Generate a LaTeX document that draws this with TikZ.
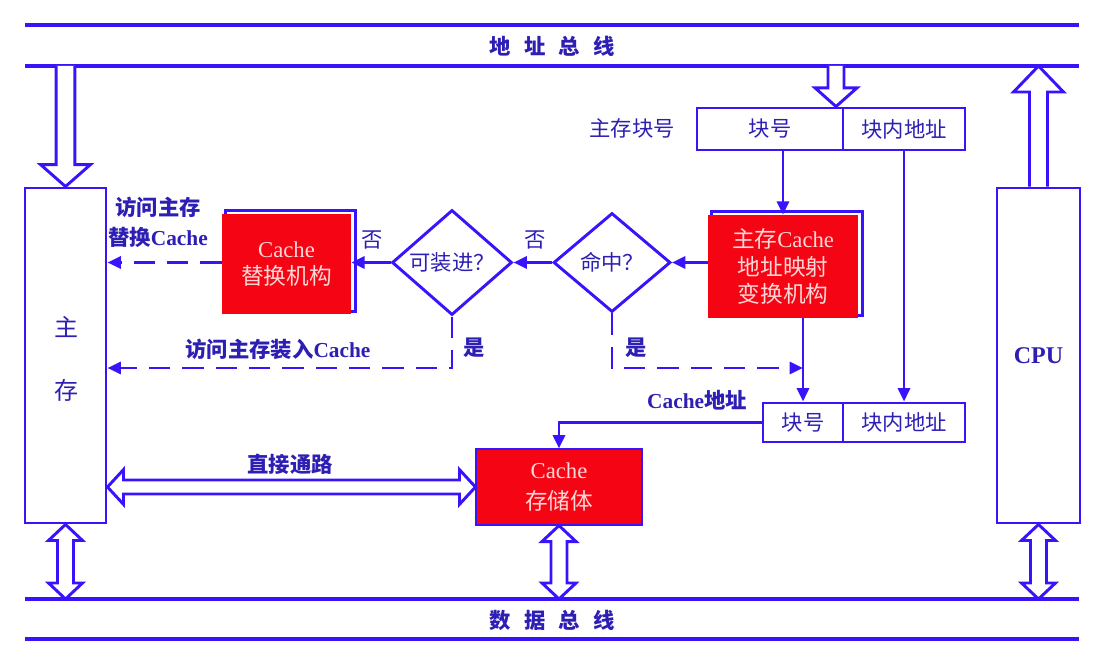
\documentclass[tikz,border=0pt]{standalone}
\usepackage{fontspec}
\setmainfont{Liberation Serif}
\newfontfamily\cjk{Noto Sans CJK SC}
\usetikzlibrary{shapes.geometric,arrows.meta,calc,backgrounds}
\definecolor{bl}{RGB}{55,20,250}
\definecolor{tx}{RGB}{45,30,180}
\definecolor{rd}{RGB}{245,5,20}
\definecolor{pk}{RGB}{255,215,215}
% vertical double hollow arrow: #1 top point, #2 bottom point
\newcommand\vdarr[2]{%
  \draw[hollow] let \p1=#1, \p2=#2 in
    (\x1,\y1) -- ({\x1+12.75pt},{\y1-12pt}) -- ({\x1+6pt},{\y1-12pt}) --
    ({\x1+6pt},{\y2+12pt}) -- ({\x1+12.75pt},{\y2+12pt}) -- (\x1,\y2) --
    ({\x1-12.75pt},{\y2+12pt}) -- ({\x1-6pt},{\y2+12pt}) --
    ({\x1-6pt},{\y1-12pt}) -- ({\x1-12.75pt},{\y1-12pt}) -- cycle;}
% single hollow arrow from #1 (open end) to #2 (tip); #3 shaft half, #4 head half, #5 head length (signed)
\newcommand\vsarr[5]{%
  \draw[hollow] let \p1=#1, \p2=#2 in
    ({\x1-#3},\y1) -- ({\x1-#3},{\y2+#5}) -- ({\x1-#4},{\y2+#5}) -- (\x1,\y2) --
    ({\x1+#4},{\y2+#5}) -- ({\x1+#3},{\y2+#5}) -- ({\x1+#3},\y1);}
% horizontal double hollow arrow: #1 left point, #2 right point
\newcommand\hdarr[2]{%
  \draw[hollow] let \p1=#1, \p2=#2 in
    (\x1,\y1) -- ({\x1+12pt},{\y1+13pt}) -- ({\x1+12pt},{\y1+5.25pt}) --
    ({\x2-12pt},{\y1+5.25pt}) -- ({\x2-12pt},{\y1+13pt}) -- (\x2,\y1) --
    ({\x2-12pt},{\y1-13pt}) -- ({\x2-12pt},{\y1-5.25pt}) --
    ({\x1+12pt},{\y1-5.25pt}) -- ({\x1+12pt},{\y1-13pt}) -- cycle;}
\begin{document}
\begin{tikzpicture}[x=0.75pt,y=-0.75pt,
  font=\fontsize{16}{20}\selectfont,
  box/.style={draw=bl, line width=2.2pt, rectangle, inner sep=0pt, text=tx},
  redbox/.style={fill=rd, draw=none, inner sep=0pt, text=pk, align=center,
                 font=\fontsize{17}{20.5}\selectfont},
  dia/.style={diamond, draw=bl, line width=2.2pt, inner sep=0pt, text=tx},
  conn/.style={draw=bl, line width=2.2pt, -{Triangle[length=10pt,width=9pt]}},
  dconn/.style={conn, dash pattern=on 16pt off 9pt},
  bus/.style={draw=bl, line width=3pt},
  hollow/.style={draw=bl, line width=2.2pt, fill=white, line join=miter},
  lbl/.style={text=tx, inner sep=0pt},
  blbl/.style={lbl, font=\fontsize{16}{20}\selectfont\bfseries},
]
\useasboundingbox (0,0) rectangle (1098,656);

% buses
\coordinate (a1l) at (25,25);  \coordinate (a1r) at (1079,25);
\coordinate (a2l) at (25,66);  \coordinate (a2r) at (1079,66);
\coordinate (d1l) at (25,599); \coordinate (d1r) at (1079,599);
\coordinate (d2l) at (25,639); \coordinate (d2r) at (1079,639);
\draw[bus] (a1l) -- (a1r);
\draw[bus] (a2l) -- (a2r);
\draw[bus] (d1l) -- (d1r);
\draw[bus] (d2l) -- (d2r);
\node[blbl] (abus) at (552,46) {\cjk\bfseries 地\hspace{10pt}址\hspace{10pt}总\hspace{10pt}线};
\node[blbl] (dbus) at (552,620) {\cjk\bfseries 数\hspace{10pt}据\hspace{10pt}总\hspace{10pt}线};

% main boxes
\node[box, minimum width=60.75pt, minimum height=251.25pt] (mem) at (65.5,355.5) {};
\node[lbl, font=\fontsize{18}{20}\selectfont] (memA) at (66,327) {\cjk 主};
\node[lbl, font=\fontsize{18}{20}\selectfont] (memB) at (66,390) {\cjk 存};
\node[box, minimum width=62.25pt, minimum height=251.25pt,
      font=\fontsize{18}{20}\selectfont\bfseries] (cpu) at (1038.5,355.5) {CPU};

% address registers
\node[box, minimum width=109.5pt, minimum height=31.5pt] (blk1) at (770,129) {\cjk 块号};
\node[box, minimum width=91.5pt, minimum height=31.5pt] (off1) at (904,129) {\cjk 块内地址};
\node[lbl] (mlab) at (632,128) {\cjk 主存块号};
\node[box, minimum width=60pt, minimum height=29.25pt] (blk2) at (803,422.5) {\cjk 块号};
\node[box, minimum width=91.5pt, minimum height=29.25pt] (off2) at (904,422.5) {\cjk 块内地址};
\node[blbl] (clab) at (697,400) {Cache{\cjk\bfseries 地址}};

% red units
\node[redbox, minimum width=112.5pt, minimum height=77.25pt] (map) at (783,266.5)
  {{\cjk 主存}Cache\\{\cjk 地址映射}\\{\cjk 变换机构}};
\node[redbox, minimum width=96.75pt, minimum height=75pt] (repl) at (286.5,264)
  {Cache\\{\cjk 替换机构}};
\node[redbox, draw=bl, line width=0.8pt, minimum width=124.5pt, minimum height=57pt,
      font=\fontsize{17}{23}\selectfont] (store) at (559,487)
  {Cache\\{\cjk 存储体}};
\begin{scope}[on background layer]
  \draw[bl, line width=2pt] ($(map.south west)+(4,-3)$) rectangle ($(map.north east)+(4,-3)$);
  \draw[bl, line width=2pt] ($(repl.south west)+(4,-3)$) rectangle ($(repl.north east)+(4,-3)$);
\end{scope}

% decisions
\node[dia, minimum width=87.75pt, minimum height=74.25pt] (hit) at (612,262.5) {\cjk 命中？};
\node[dia, minimum width=90pt, minimum height=74.25pt] (fit) at (452,262.5) {\cjk 可装进？};

% connectors
\coordinate (ylow) at (0,368);
\draw[conn] (map.north |- blk1.south) -- (map.north);
\draw[conn] (off1.south) -- (off2.north);
\draw[conn] (map.west |- hit.east) -- (hit.east);
\draw[conn] (hit.west) -- (fit.east);
\draw[conn] (fit.west) -- (fit.west -| repl.east);
\draw[dconn] (repl.west |- fit.west) -- (fit.west -| mem.east);
\draw[dconn] (fit.south) |- (mem.east |- ylow);
\draw[dconn] (hit.south) |- (blk2.north |- ylow);
\draw[conn] (blk2.north |- map.south) -- (blk2.north);
\draw[conn] (blk2.west) -| (store.north);

% labels
\node[lbl] (no2) at (535,240) {\cjk 否};
\node[lbl] (no1) at (372,240) {\cjk 否};
\node[blbl] (yes1) at (474,348) {\cjk\bfseries 是};
\node[blbl] (yes2) at (636,348) {\cjk\bfseries 是};
\node[blbl, align=center, font=\fontsize{16}{22.5}\selectfont\bfseries] (rlab) at (158,222)
  {{\cjk\bfseries 访问主存}\\{\cjk\bfseries 替换}Cache};
\node[blbl] (llab) at (278,349) {{\cjk\bfseries 访问主存装入}Cache};
\node[blbl] (dlab) at (290,464) {\cjk\bfseries 直接通路};

% hollow bus arrows
\coordinate (tarr) at (836,66);
\vsarr{(mem.north |- a2l)}{(mem.north)}{7pt}{18.75pt}{16.5pt}
\vsarr{(tarr)}{(tarr |- blk1.north)}{6pt}{15.75pt}{14pt}
\vsarr{(cpu.north)}{(cpu.north |- a2l)}{6.75pt}{18.75pt}{-19.5pt}
\vdarr{(mem.south)}{(mem.south |- d1l)}
\vdarr{(store.south)}{(store.south |- d1l)}
\vdarr{(cpu.south)}{(cpu.south |- d1l)}
\hdarr{(store.west -| mem.east)}{(store.west)}
\end{tikzpicture}
\end{document}
